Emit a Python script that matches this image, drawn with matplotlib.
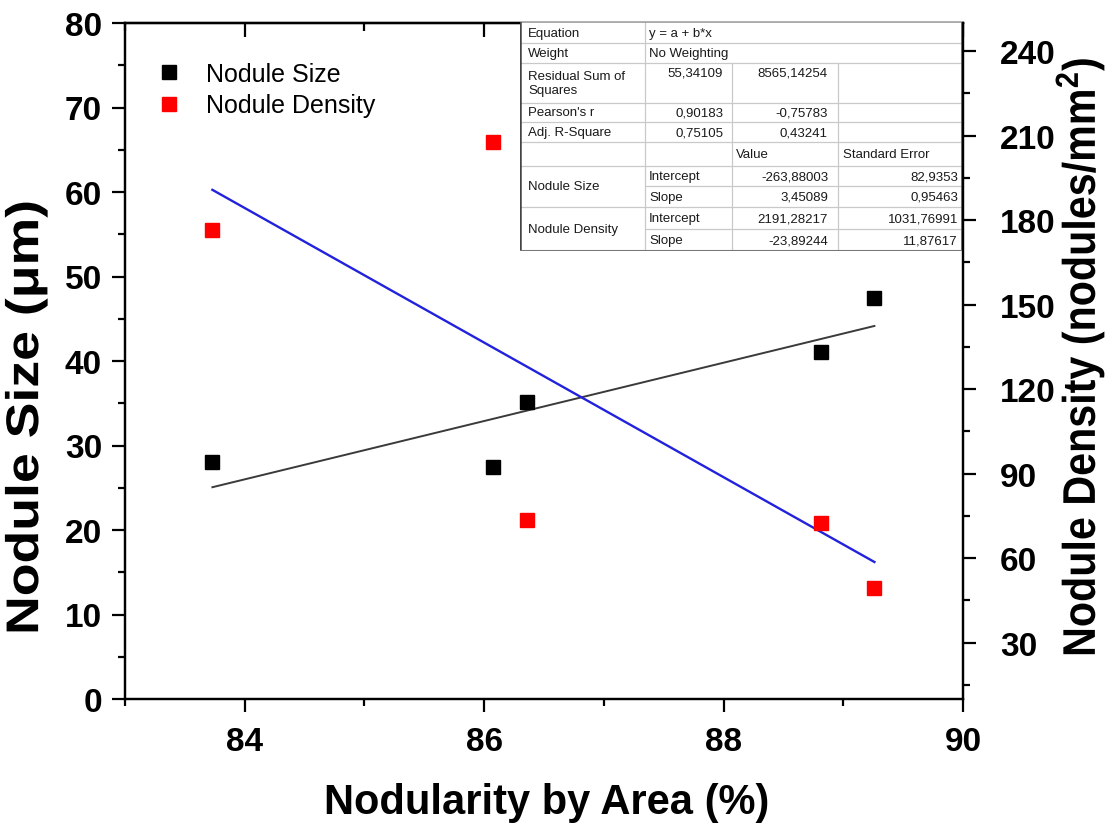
import matplotlib
matplotlib.use("Agg")
import matplotlib.pyplot as plt
from matplotlib.ticker import MultipleLocator
from matplotlib.lines import Line2D
from matplotlib.transforms import Affine2D
from matplotlib import patheffects
import numpy as np

plt.rcParams['font.family'] = ['Liberation Sans', 'DejaVu Sans']
plt.rcParams['mathtext.fontset'] = 'custom'
plt.rcParams['mathtext.rm'] = 'Liberation Sans:bold'
plt.rcParams['mathtext.bf'] = 'Liberation Sans:bold'
plt.rcParams['mathtext.it'] = 'Liberation Sans:bold'

# ---- measured data ----
nodularity = [83.73, 86.07, 86.36, 88.81, 89.26]          # %
nodule_size = [28.0, 27.5, 35.2, 41.1, 47.4]              # um
nodule_density = [176.5, 207.8, 73.6, 72.5, 49.3]         # nodules/mm2

# ---- linear fit results (y = a + b*x) ----
size_intercept, size_slope = -263.88003, 3.45089
size_intercept_err, size_slope_err = 82.9353, 0.95463
dens_intercept, dens_slope = 2191.28217, -23.89244
dens_intercept_err, dens_slope_err = 1031.76991, 11.87617
rss = [55.34109, 8565.14254]
pearson_r = [0.90183, -0.75783]
adj_r2 = [0.75105, 0.43241]

series_labels = ["Nodule Size", "Nodule Density"]
x_ticks = [84, 86, 88, 90]
left_ticks = [0, 10, 20, 30, 40, 50, 60, 70, 80]
right_ticks = [30, 60, 90, 120, 150, 180, 210, 240]


def fmt(v):
    s = f"{v:.5f}".rstrip('0').rstrip('.')
    return s.replace('.', ',')


class Stretch(patheffects.AbstractPathEffect):
    """Scale glyph outlines along the text baseline, about their centre."""

    def __init__(self, sx=1.0):
        super().__init__()
        self.sx = sx

    def draw_path(self, renderer, gc, tpath, affine, rgbFace=None):
        ext = tpath.get_extents()
        cx = (ext.x0 + ext.x1) / 2
        t = Affine2D().translate(-cx, 0).scale(self.sx, 1).translate(cx, 0) + affine
        renderer.draw_path(gc, tpath, t, rgbFace)


W, H = 1112, 828
fig = plt.figure(figsize=(W / 100, H / 100), dpi=100)
L, R, T, B = 125, 963, 24, 700
ax = fig.add_axes([L / W, 1 - B / H, (R - L) / W, (B - T) / H])
ax2 = ax.twinx()

# scatter points
ax.plot(nodularity, nodule_size, 's', color='black', markersize=9.5, zorder=3)
ax2.plot(nodularity, nodule_density, 's', color='#ff0000', markersize=9.5, zorder=3)

# fitted lines
xf = np.array([min(nodularity), max(nodularity)])
ax.plot(xf, size_intercept + size_slope * xf, color='#3a3a3a', lw=1.4, zorder=2)
ax2.plot(xf, dens_intercept + dens_slope * xf, color='#2222dd', lw=1.7, zorder=2)

# axes ranges and ticks
ax.set_xlim(83, 90)
ax.set_ylim(0, 80)
ax2.set_ylim(10, 250)
ax.set_xticks(x_ticks)
ax.xaxis.set_minor_locator(MultipleLocator(1))
ax.set_yticks(left_ticks)
ax.yaxis.set_minor_locator(MultipleLocator(5))
ax2.set_yticks(right_ticks)
ax2.yaxis.set_minor_locator(MultipleLocator(15))

for a in (ax, ax2):
    for s in a.spines.values():
        s.set_linewidth(1.6)

ax.tick_params(axis='both', which='major', direction='out', length=9.5, width=1.6, pad=7)
ax.tick_params(axis='both', which='minor', direction='out', length=5, width=1.6)
ax.tick_params(axis='x', pad=10)
ax2.tick_params(axis='y', which='major', direction='out', length=9.5, width=1.6, pad=17)
ax2.tick_params(axis='y', which='minor', direction='out', length=5, width=1.6)
for lab in ax.get_xticklabels() + ax.get_yticklabels() + ax2.get_yticklabels():
    lab.set_fontsize(24)
    lab.set_fontweight('bold')

# inward ticks along the top edge
top = ax.secondary_xaxis('top')
top.set_xticks(x_ticks)
top.xaxis.set_minor_locator(MultipleLocator(1))
top.tick_params(which='major', direction='in', length=10, width=1.6, labeltop=False)
top.tick_params(which='minor', direction='in', length=6, width=1.6)
top.spines['top'].set_linewidth(1.6)

# axis titles
ax.set_xlabel("Nodularity by Area (%)", fontsize=30, fontweight='bold', va='center', ha='center')
ax.xaxis.set_label_coords(0.503, -0.153)
ax.set_ylabel("Nodule Size (\u03bcm)", fontsize=33, fontweight='bold', va='center', ha='center',
              path_effects=[Stretch(1.17)])
ax.yaxis.set_label_coords(-0.118, 0.417)
ax2.set_ylabel(r"Nodule Density (nodules/mm$^{2}$)", fontsize=33, fontweight='bold',
               va='center', ha='center', rotation=90, path_effects=[Stretch(0.90)])
ax2.yaxis.set_label_coords(1.1396, 0.506)

# legend
handles = [Line2D([], [], ls='none', marker='s', color='black', markersize=9.5),
           Line2D([], [], ls='none', marker='s', color='#ff0000', markersize=9.5)]
fig.legend(handles, series_labels, loc='upper left',
           bbox_to_anchor=(145 / W, 1 - 63 / H), frameon=False, fontsize=18,
           borderpad=0, borderaxespad=0, handlelength=1.9, handletextpad=0.55,
           labelspacing=0.29, numpoints=1)

# ---- regression summary table ----
TX0, TY0, TX1, TY1 = 520, 23, 962, 252
tw, th = TX1 - TX0, TY1 - TY0
tax = fig.add_axes([TX0 / W, 1 - TY1 / H, tw / W, th / H])
tax.set_xlim(0, tw)
tax.set_ylim(th, 0)
tax.axis('off')
tax.add_patch(plt.Rectangle((0, 0), tw, th, facecolor='white', edgecolor='none', zorder=0))

c1, c2, c3 = 125, 212, 318
grid = dict(color='#c9c9c9', lw=0.9, zorder=1)
for y in [21, 41, 81, 100, 120, 144, 185]:
    tax.plot([0, tw], [y, y], **grid)
for y in [164, 207]:
    tax.plot([c1, tw], [y, y], **grid)
tax.plot([c1] * 2, [0, th], **grid)
tax.plot([c2] * 2, [41, th], **grid)
tax.plot([c3] * 2, [41, th], **grid)
tax.plot([0, tw, tw, 0, 0], [0, 0, th, th, 0], color='#9a9a9a', lw=1.2, zorder=2)
tax.plot([0, 0], [0, th], color='#444444', lw=1.8, zorder=2)
tax.plot([tw, tw], [0, th], color='#555555', lw=1.8, zorder=2)
tax.plot([0, tw], [th, th], color='#777777', lw=1.5, zorder=2)

tfs = 9.5
tc = '#1a1a1a'


def cell(x, y, s, ha='left', **kw):
    tax.text(x, y, s, fontsize=tfs, color=tc, ha=ha, va='center', zorder=3, **kw)


cell(8, 11, "Equation")
cell(129, 11, "y = a + b*x")
cell(8, 31, "Weight")
cell(129, 31, "No Weighting")
cell(8, 61, "Residual Sum of\nSquares", linespacing=1.25)
cell(8, 90.5, "Pearson's r")
cell(8, 110, "Adj. R-Square")
for vals, yc in [(rss, 51), (pearson_r, 90.5), (adj_r2, 110)]:
    cell(203, yc, fmt(vals[0]), ha='right')
    cell(308, yc, fmt(vals[1]), ha='right')
cell(216, 132, "Value")
cell(323, 132, "Standard Error")

params = [
    ("Nodule Size", [("Intercept", size_intercept, size_intercept_err, 144, 164),
                     ("Slope", size_slope, size_slope_err, 164, 185)]),
    ("Nodule Density", [("Intercept", dens_intercept, dens_intercept_err, 185, 207),
                        ("Slope", dens_slope, dens_slope_err, 207, th)]),
]
for name, entries in params:
    cell(8, (entries[0][3] + entries[1][4]) / 2, name)
    for pname, val, err, ya, yb in entries:
        yc = (ya + yb) / 2
        cell(129, yc, pname)
        cell(308, yc, fmt(val), ha='right')
        cell(438, yc, fmt(err), ha='right')

fig.savefig("out.png", dpi=100)
